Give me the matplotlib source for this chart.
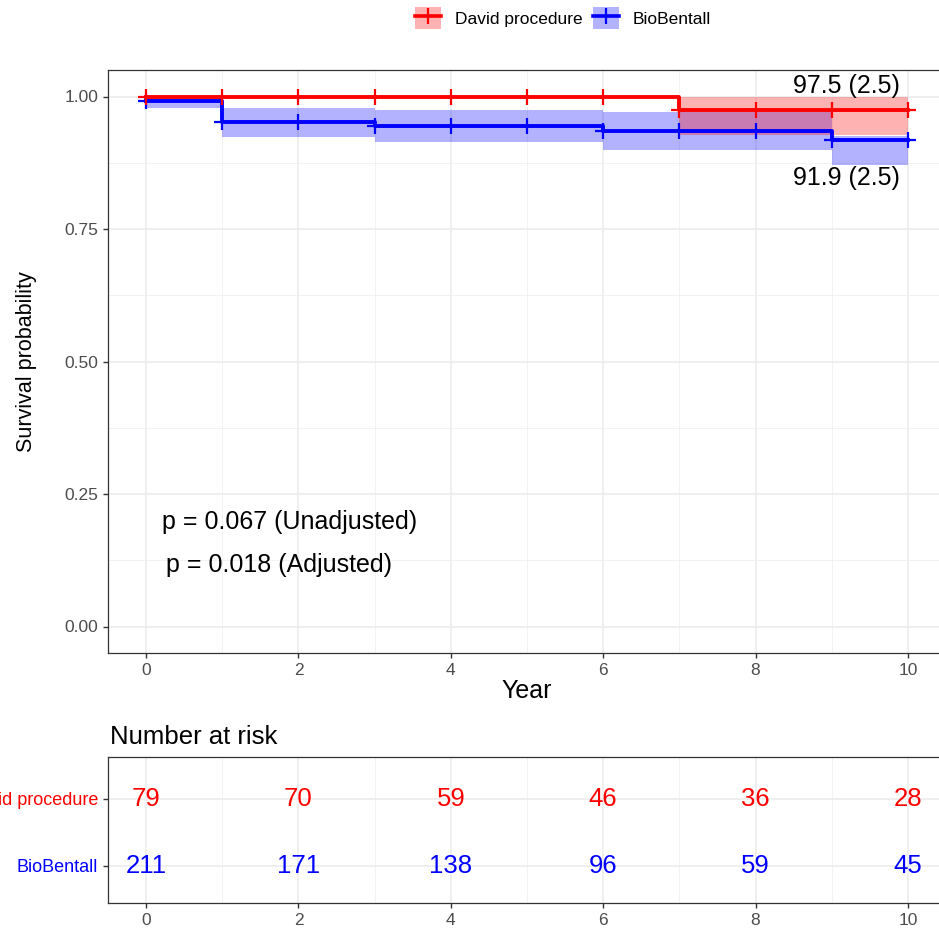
import numpy as np
import matplotlib
matplotlib.use('Agg')
from matplotlib import pyplot as plt
from matplotlib.patches import Patch
from matplotlib.lines import Line2D

plt.rcParams['font.family'] = ['Liberation Sans', 'DejaVu Sans']

# survival curves (step, post)
david_t = [0, 7, 10]
david_s = [1.0, 0.975, 0.975]
david_lo = [1.0, 0.928, 0.928]
david_hi = [1.0, 1.0, 1.0]

bio_t = [0, 1, 3, 6, 9, 10]
bio_s = [0.991, 0.951, 0.945, 0.935, 0.918, 0.918]
bio_lo = [0.979, 0.923, 0.914, 0.900, 0.870, 0.870]
bio_hi = [1.0, 0.979, 0.975, 0.971, 0.925, 0.925]

censor_years = [0, 1, 2, 3, 4, 5, 6, 7, 8, 9, 10]

groups = ['David procedure', 'BioBentall']
risk_times = [0, 2, 4, 6, 8, 10]
risk_david = [79, 70, 59, 46, 36, 28]
risk_bio = [211, 171, 138, 96, 59, 45]

red = '#FF0000'
blue = '#0000FF'

W, H = 939, 931
fig = plt.figure(figsize=(W / 100, H / 100), dpi=100)

def style(ax):
    for s in ax.spines.values():
        s.set_color('#333333')
        s.set_linewidth(0.9)
    ax.tick_params(colors='#333333', labelcolor='#4d4d4d', labelsize=12.5, length=3.5, width=1.0)
    ax.set_axisbelow(True)
    ax.grid(which='major', color='#ebebeb', lw=1.1)
    ax.grid(which='minor', color='#f0f0f0', lw=0.6)

# main axes
ax = fig.add_axes([108 / W, 1 - 653 / H, (946 - 108) / W, (653 - 70) / H])
style(ax)

def step_at(t, s, x):
    i = np.searchsorted(t, x, side='right') - 1
    return s[max(i, 0)]

for t, s, lo, hi, c in [(bio_t, bio_s, bio_lo, bio_hi, blue),
                        (david_t, david_s, david_lo, david_hi, red)]:
    ax.fill_between(t, lo, hi, step='post', color=c, alpha=0.3, lw=0)
    ax.step(t, s, where='post', color=c, lw=2.8)
    ys = [step_at(t, s, x) for x in censor_years]
    ax.plot(censor_years, ys, ls='none', marker='+', ms=11, mew=1.6, color=c)

ax.set_xlim(-0.5, 10.5)
ax.set_ylim(-0.05, 1.05)
ax.set_xticks([0, 2, 4, 6, 8, 10])
ax.set_xticks([1, 3, 5, 7, 9], minor=True)
ax.set_yticks([0, 0.25, 0.5, 0.75, 1.0])
ax.set_yticklabels(['0.00', '0.25', '0.50', '0.75', '1.00'])
ax.set_yticks([0.125, 0.375, 0.625, 0.875], minor=True)
ax.tick_params(which='minor', length=0)
ax.set_xlabel('Year', fontsize=18, labelpad=1)
ax.set_ylabel('Survival probability', fontsize=15.5, labelpad=20)

ax.text(9.9, 1.019, '97.5 (2.5)', fontsize=18, ha='right', va='center')
ax.text(9.9, 0.847, '91.9 (2.5)', fontsize=18, ha='right', va='center')
ax.text(0.21, 0.197, 'p = 0.067 (Unadjusted)', fontsize=18, ha='left', va='center')
ax.text(0.26, 0.116, 'p = 0.018 (Adjusted)', fontsize=18, ha='left', va='center')

handles = [(Patch(color=red, alpha=0.3, lw=0), Line2D([], [], color=red, lw=2.6, marker='+', ms=11, mew=1.6)),
           (Patch(color=blue, alpha=0.3, lw=0), Line2D([], [], color=blue, lw=2.6, marker='+', ms=11, mew=1.6))]
fig.legend(handles, groups, loc='center', bbox_to_anchor=(563 / W, 1 - 18 / H), ncol=2,
           frameon=False, fontsize=12.5, handlelength=1.5, handleheight=1.5, columnspacing=0.6,
           handletextpad=0.8)

# risk table
ax2 = fig.add_axes([108 / W, 1 - 903 / H, (946 - 108) / W, (903 - 757) / H])
style(ax2)
for i, x in enumerate(risk_times):
    ax2.text(x, 1, str(risk_david[i]), color=red, fontsize=18.5, ha='center', va='center')
    ax2.text(x, 2, str(risk_bio[i]), color=blue, fontsize=18.5, ha='center', va='center')
ax2.set_xlim(-0.5, 10.5)
ax2.set_ylim(2.55, 0.38)
ax2.set_xticks(risk_times)
ax2.set_xticks([1, 3, 5, 7, 9], minor=True)
ax2.tick_params(which='minor', length=0)
ax2.set_yticks([1, 2])
ax2.set_yticklabels(groups, fontsize=13)
for lab, c in zip(ax2.get_yticklabels(), [red, blue]):
    lab.set_color(c)
ax2.yaxis.grid(True, which='major', color='#ebebeb', lw=1.1)
fig.text(110 / W, 1 - 737 / H, 'Number at risk', fontsize=18.5, ha='left', va='center')

fig.savefig('out.png', dpi=100)
